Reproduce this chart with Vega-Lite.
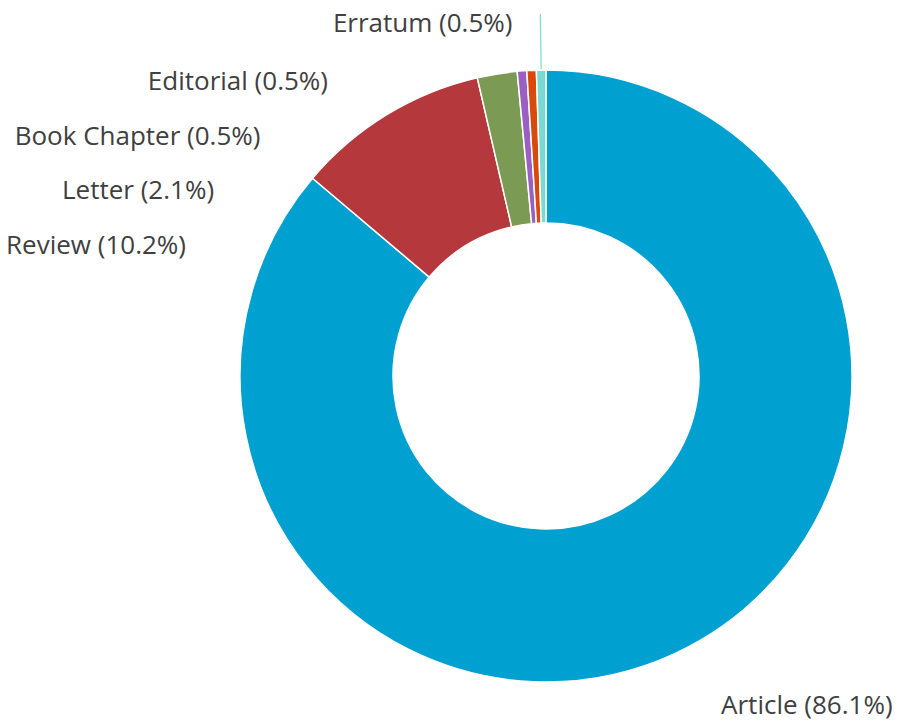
{
  "$schema": "https://vega.github.io/schema/vega-lite/v6.json",
  "width": 708,
  "height": 704,
  "autosize": "none",
  "padding": {"left": 192, "top": 24, "right": 0, "bottom": 0},
  "background": "white",
  "config": {"view": {"stroke": null}},
  "data": {
    "values": [
      {"type": "Article", "pct": 86.1, "rank": 1, "label": "Article (86.1%)"},
      {"type": "Review", "pct": 10.2, "rank": 2, "label": "Review (10.2%)"},
      {"type": "Letter", "pct": 2.1, "rank": 3, "label": "Letter (2.1%)"},
      {"type": "Book Chapter", "pct": 0.5, "rank": 4, "label": "Book Chapter (0.5%)"},
      {"type": "Editorial", "pct": 0.5, "rank": 5, "label": "Editorial (0.5%)"},
      {"type": "Erratum", "pct": 0.5, "rank": 6, "label": "Erratum (0.5%)"}
    ]
  },
  "layer": [
    {
      "mark": {"type": "arc", "innerRadius": 153, "outerRadius": 306, "stroke": "white", "strokeWidth": 1.5},
      "encoding": {
        "theta": {"field": "pct", "type": "quantitative", "stack": true},
        "order": {"field": "rank", "type": "quantitative", "sort": "ascending"},
        "color": {
          "field": "type",
          "type": "nominal",
          "scale": {
            "domain": ["Article", "Review", "Letter", "Book Chapter", "Editorial", "Erratum"],
            "range": ["#00a0d0", "#b5383d", "#7b9b55", "#9a5fc0", "#d94a0a", "#7ad9d2"]
          },
          "legend": null
        }
      }
    },
    {
      "mark": {"type": "arc", "innerRadius": 307, "outerRadius": 362, "padAngle": 2, "filled": false, "strokeWidth": 1.2},
      "encoding": {
        "theta": {"field": "pct", "type": "quantitative", "stack": true},
        "order": {"field": "rank", "type": "quantitative", "sort": "ascending"},
        "color": {"field": "type", "type": "nominal", "legend": null},
        "strokeOpacity": {"condition": {"test": "datum.type === 'Erratum'", "value": 1}, "value": 0}
      }
    },
    {
      "transform": [{"filter": {"field": "type", "oneOf": ["Editorial", "Book Chapter", "Letter", "Review"]}}],
      "mark": {"type": "text", "align": "right", "baseline": "middle", "fontSize": 26, "font": "Open Sans", "color": "#404040"},
      "encoding": {
        "y": {
          "field": "type",
          "type": "nominal",
          "scale": {"type": "point", "domain": ["Editorial", "Book Chapter", "Letter", "Review"], "range": [58, 222], "padding": 0},
          "axis": null
        },
        "x": {
          "field": "rank",
          "type": "quantitative",
          "scale": {"type": "pow", "exponent": 2.5, "domain": [2, 5], "range": [-6, 136], "zero": false, "nice": false},
          "axis": null
        },
        "text": {"field": "label"}
      }
    },
    {
      "mark": {"type": "text", "align": "right", "baseline": "middle", "radius": 352, "dx": -28, "fontSize": 26, "font": "Open Sans", "color": "#404040"},
      "encoding": {
        "theta": {"field": "pct", "type": "quantitative", "stack": true},
        "order": {"field": "rank", "type": "quantitative", "sort": "ascending"},
        "text": {"field": "label", "condition": {"test": "datum.type !== 'Erratum'", "value": ""}}
      }
    },
    {
      "mark": {"type": "text", "align": "left", "baseline": "middle", "radius": 364, "dx": 22, "fontSize": 26, "font": "Open Sans", "color": "#404040"},
      "encoding": {
        "theta": {"field": "pct", "type": "quantitative", "stack": true},
        "order": {"field": "rank", "type": "quantitative", "sort": "ascending"},
        "text": {"field": "label", "condition": {"test": "datum.type !== 'Article'", "value": ""}}
      }
    }
  ]
}
